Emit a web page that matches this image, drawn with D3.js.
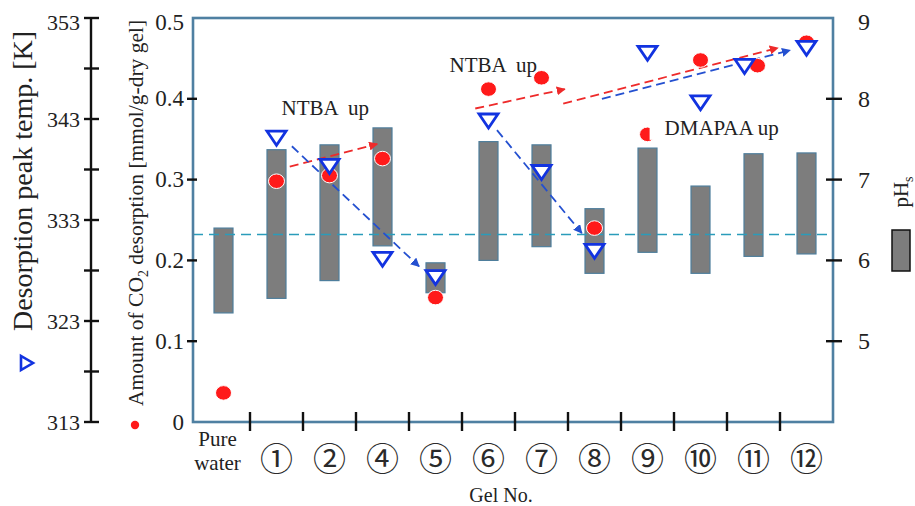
<!DOCTYPE html>
<html>
<head>
<meta charset="utf-8">
<script src="https://cdn.jsdelivr.net/npm/d3@7"></script>
<style>
  body { margin: 0; background: #fff; }
  svg { display: block; }
  text { font-family: "Liberation Serif", "Times New Roman", serif; fill: #222; }
  .note { white-space: pre; }
</style>
</head>
<body>
<svg id="chart" width="915" height="506" font-family="Liberation Serif, serif"></svg>
<script>
// Gel samples along the x axis
const categories = ["Pure water", "①", "②", "④", "⑤", "⑥", "⑦", "⑧", "⑨", "⑩", "⑪", "⑫"];
// Surface pH range of each gel (bar spans bottom..top)
const phTop    = [6.40, 7.37, 7.43, 7.64, 5.97, 7.47, 7.43, 6.64, 7.39, 6.92, 7.32, 7.33];
const phBottom = [5.35, 5.53, 5.75, 6.18, 5.60, 6.00, 6.17, 5.84, 6.10, 5.84, 6.05, 6.08];
// Amount of CO2 desorbed [mmol/g-dry gel]
const co2Amount = [0.036, 0.298, 0.305, 0.326, 0.154, 0.412, 0.426, 0.240, 0.356, 0.448, 0.441, 0.470];
// Desorption peak temperature [K] (none for pure water)
const peakTemp = [null, 341.2, 338.4, 329.2, 327.4, 342.9, 337.8, 330.0, 349.6, 344.7, 348.3, 350.1];
// Reference pH level (dashed line)
const phReference = 6.32;

// Axis ticks
const tempTicks = [313, 323, 333, 343, 353];
const tempMinorTicks = [318, 328, 338, 348];
const co2Ticks = [0, 0.1, 0.2, 0.3, 0.4, 0.5];
const phTicks = [5, 6, 7, 8, 9];

// Trend arrows in data space: [category index, value]
const co2Arrows = [
  { from: [1.25, 0.316], to: [2.90, 0.344] },
  { from: [4.75, 0.388], to: [6.44, 0.412] },
  { from: [6.41, 0.394], to: [10.46, 0.463] }
];
const tempArrows = [
  { from: [1.29, 340.3], to: [3.69, 328.4] },
  { from: [5.16, 341.9], to: [6.76, 331.7] },
  { from: [7.14, 345.0], to: [10.69, 349.8] }
];
// Notes placed at [category index, CO2 value]
const notes = [
  { text: "NTBA  up", at: [1.92, 0.388], knockout: false },
  { text: "NTBA  up", at: [5.09, 0.442], knockout: false },
  { text: "DMAPAA up", at: [9.40, 0.364], knockout: true }
];

const svg = d3.select("#chart");
const frame = { left: 193, right: 833, top: 18, bottom: 422 };

const x = d3.scaleBand().domain(categories).range([197, frame.right]);
const xAt = i => x(categories[0]) + x.step() * (i + 0.5);
const yCO2 = d3.scaleLinear().domain([0, 0.5]).range([frame.bottom, frame.top]);
const yT = d3.scaleLinear().domain([313, 353]).range([frame.bottom, frame.top]);
const yPH = d3.scaleLinear().domain([4, 9]).range([frame.bottom, frame.top]);

const frameColor = "#4f80a2";
const red = "#ff1a1a", blue = "#1233e0";

// small offsets where two marks would sit on top of each other
const nudge = { "⑪": { tri: -9, dot: 4 } };

// arrowheads
const defs = svg.append("defs");
[["head-red", "#ee2a2a"], ["head-blue", "#2450d0"]].forEach(([id, c]) => {
  defs.append("marker").attr("id", id).attr("viewBox", "0 0 10 10")
    .attr("refX", 9).attr("refY", 5).attr("markerWidth", 5).attr("markerHeight", 5)
    .attr("orient", "auto").attr("markerUnits", "strokeWidth")
    .append("path").attr("d", "M0,0 L10,5 L0,10 Z").attr("fill", c);
});

// pH bars
const bw = 19;
svg.append("g").selectAll("rect").data(categories).join("rect")
  .attr("x", d => x(d) + x.bandwidth() / 2 - bw / 2)
  .attr("width", bw)
  .attr("y", (d, i) => yPH(phTop[i]))
  .attr("height", (d, i) => yPH(phBottom[i]) - yPH(phTop[i]))
  .attr("fill", "#7d7d7d")
  .attr("stroke", "#4e7e9c")
  .attr("stroke-width", 1.2);

// reference pH line
svg.append("line")
  .attr("x1", frame.left).attr("x2", frame.right)
  .attr("y1", yPH(phReference)).attr("y2", yPH(phReference))
  .attr("stroke", "#2a9cba").attr("stroke-width", 1.6)
  .attr("stroke-dasharray", "10,6");

// plot frame
svg.append("rect")
  .attr("x", frame.left).attr("y", frame.top)
  .attr("width", frame.right - frame.left).attr("height", frame.bottom - frame.top)
  .attr("fill", "none").attr("stroke", frameColor).attr("stroke-width", 2.6);

// trend arrows
const arrowG = svg.append("g").attr("fill", "none").attr("stroke-width", 1.8).attr("stroke-dasharray", "9,5");
arrowG.selectAll(".co2").data(co2Arrows).join("line").attr("class", "co2")
  .attr("x1", d => xAt(d.from[0])).attr("y1", d => yCO2(d.from[1]))
  .attr("x2", d => xAt(d.to[0])).attr("y2", d => yCO2(d.to[1]))
  .attr("stroke", "#ee2a2a").attr("marker-end", "url(#head-red)");
arrowG.selectAll(".tmp").data(tempArrows).join("line").attr("class", "tmp")
  .attr("x1", d => xAt(d.from[0])).attr("y1", d => yT(d.from[1]))
  .attr("x2", d => xAt(d.to[0])).attr("y2", d => yT(d.to[1]))
  .attr("stroke", "#2450d0").attr("marker-end", "url(#head-blue)");

// CO2 amount dots
svg.append("g").selectAll("ellipse").data(categories).join("ellipse")
  .attr("cx", (d, i) => x(d) + x.bandwidth() / 2 + (nudge[d] ? nudge[d].dot : 0))
  .attr("cy", (d, i) => yCO2(co2Amount[i]))
  .attr("rx", 8).attr("ry", 7.3)
  .attr("fill", red).attr("stroke", "#fff").attr("stroke-width", 1);

// peak temperature triangles
const tri = "M-9.5,-6 L9.5,-6 L0,8 Z";
svg.append("g").selectAll("path")
  .data(categories.map((c, i) => ({ c, t: peakTemp[i] })).filter(d => d.t != null))
  .join("path")
  .attr("d", tri)
  .attr("transform", d => `translate(${x(d.c) + x.bandwidth() / 2 + (nudge[d.c] ? nudge[d.c].tri : 0)},${yT(d.t)})`)
  .attr("fill", "#fff").attr("stroke", blue).attr("stroke-width", 2.8)
  .attr("stroke-linejoin", "miter");

// notes (the last one sits on a white plate)
notes.forEach(n => {
  const g = svg.append("g");
  const t = g.append("text").attr("class", "note")
    .attr("xml:space", "preserve")
    .attr("x", xAt(n.at[0])).attr("y", yCO2(n.at[1]))
    .attr("text-anchor", "middle").attr("dominant-baseline", "central")
    .attr("font-size", 21).text(n.text);
  if (n.knockout) {
    const b = t.node().getBBox();
    g.insert("rect", "text").attr("x", b.x - 15).attr("y", b.y)
      .attr("width", b.width + 17).attr("height", b.height).attr("fill", "#fff");
  }
});

// bottom category ticks at band boundaries
svg.append("g").selectAll("line").data(categories.slice(1)).join("line")
  .attr("x1", d => x(d)).attr("x2", d => x(d))
  .attr("y1", frame.bottom - 10).attr("y2", frame.bottom + 9)
  .attr("stroke", "#111").attr("stroke-width", 2.4);

// category labels
const catG = svg.append("g");
catG.selectAll("text").data(categories.slice(1)).join("text")
  .attr("x", d => x(d) + x.bandwidth() / 2)
  .attr("y", 457)
  .attr("text-anchor", "middle").attr("dominant-baseline", "central")
  .style("font-family", "'Noto Sans CJK JP', 'DejaVu Sans', sans-serif")
  .attr("font-size", 33).style("fill", "#2a2a2a")
  .text(d => d);
const pw = catG.append("text")
  .attr("x", x(categories[0]) + x.bandwidth() / 2 - 6)
  .attr("text-anchor", "middle").attr("font-size", 21);
pw.append("tspan").attr("x", x(categories[0]) + x.bandwidth() / 2 - 6).attr("y", 446).text("Pure");
pw.append("tspan").attr("x", x(categories[0]) + x.bandwidth() / 2 - 6).attr("y", 470).text("water");

// x title
svg.append("text").attr("x", 501).attr("y", 502).attr("text-anchor", "middle")
  .attr("font-size", 20).text("Gel No.");

// CO2 axis (left of frame)
const co2Axis = svg.append("g").attr("transform", `translate(${frame.left},0)`);
co2Axis.selectAll("line").data(co2Ticks.filter(v => v > 0 && v < 0.5)).join("line")
  .attr("x1", -6).attr("x2", 4)
  .attr("y1", d => yCO2(d)).attr("y2", d => yCO2(d))
  .attr("stroke", "#111").attr("stroke-width", 2.4);
co2Axis.selectAll("text").data(co2Ticks).join("text")
  .attr("x", -9).attr("y", d => yCO2(d) + (d === 0.5 ? 4 : 0))
  .attr("text-anchor", "end").attr("dominant-baseline", "central")
  .attr("font-size", 23)
  .text(d => d === 0 ? "0" : d3.format(".1f")(d));

// temperature axis (far left)
const tAxisX = 91;
const tAxis = svg.append("g").attr("transform", `translate(${tAxisX},0)`);
tAxis.append("line").attr("x1", 0).attr("x2", 0)
  .attr("y1", yT(353)).attr("y2", yT(313))
  .attr("stroke", "#111").attr("stroke-width", 2.4);
tAxis.selectAll("line.tk").data(tempTicks.concat(tempMinorTicks)).join("line").attr("class", "tk")
  .attr("x1", -7).attr("x2", 8)
  .attr("y1", d => yT(d)).attr("y2", d => yT(d))
  .attr("stroke", "#111").attr("stroke-width", 2.4);
tAxis.selectAll("text").data(tempTicks).join("text")
  .attr("x", -11).attr("y", d => yT(d) + (d === 353 ? 4 : 0))
  .attr("text-anchor", "end").attr("dominant-baseline", "central")
  .attr("font-size", 22)
  .text(d => d);

// pH axis (right side of frame)
const phAxis = svg.append("g").attr("transform", `translate(${frame.right},0)`);
phAxis.selectAll("line").data(phTicks.filter(v => v < 9)).join("line")
  .attr("x1", -7).attr("x2", 9)
  .attr("y1", d => yPH(d)).attr("y2", d => yPH(d))
  .attr("stroke", "#111").attr("stroke-width", 2.4);
phAxis.selectAll("text").data(phTicks).join("text")
  .attr("x", 25).attr("y", d => yPH(d) + (d === 9 ? 4 : 0))
  .attr("dominant-baseline", "central")
  .attr("font-size", 24)
  .text(d => d);

// pHs title with bar swatch
const phTitle = svg.append("text").attr("transform", "translate(908,192) rotate(-90)")
  .attr("text-anchor", "middle").attr("font-size", 21);
phTitle.append("tspan").text("pH");
phTitle.append("tspan").attr("font-size", 14).attr("dy", 5).text("s");
svg.append("rect").attr("x", 892).attr("y", 230).attr("width", 18).attr("height", 41)
  .attr("fill", "#7d7d7d").attr("stroke", "#111").attr("stroke-width", 1.5);

// left titles with symbol keys
svg.append("text").attr("transform", "translate(32,181) rotate(-90)")
  .attr("text-anchor", "middle").attr("font-size", 28)
  .text("Desorption peak temp. [K]");
svg.append("path").attr("d", "M-5,-7 L-5,7 L7,0 Z")
  .attr("transform", "translate(26,363)")
  .attr("fill", "#fff").attr("stroke", blue).attr("stroke-width", 2.6);

const co2Title = svg.append("text").attr("transform", "translate(143,213) rotate(-90)")
  .attr("text-anchor", "middle").attr("font-size", 21.5);
co2Title.append("tspan").text("Amount of CO");
co2Title.append("tspan").attr("font-size", 14).attr("dy", 5).text("2");
co2Title.append("tspan").attr("dy", -5).text(" desorption [mmol/g-dry gel]");
svg.append("circle").attr("cx", 135).attr("cy", 425).attr("r", 4.2).attr("fill", red);
</script>
</body>
</html>
